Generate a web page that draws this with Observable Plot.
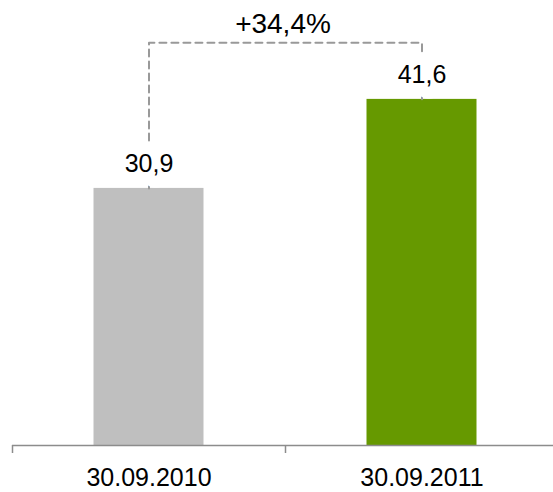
<!DOCTYPE html>
<html><head><meta charset="utf-8">
<script src="https://cdn.jsdelivr.net/npm/d3@7"></script>
<script src="https://cdn.jsdelivr.net/npm/@observablehq/plot@0.6"></script>
<style>body{margin:0;background:#fff}</style>
</head><body><div id="chart"></div>
<script>
const categories = ["30.09.2010", "30.09.2011"];
const values = [30.9, 41.6];
const valueLabels = ["30,9", "41,6"];
const changeLabel = "+34,4%";
const bracketLevel = 48.4;
const colors = ["#bfbfbf", "#669900"];

const data = categories.map((c, i) => ({cat: c, value: values[i], label: valueLabels[i], color: colors[i]}));
const xRange = [12, 558];
const step = (xRange[1] - xRange[0]) / categories.length;
const pxPerUnit = 8.32;
const bracketPath = [
  {cat: categories[0], y: values[0]},
  {cat: categories[0], y: bracketLevel},
  {cat: categories[1], y: bracketLevel},
  {cat: categories[1], y: values[1]}
];

const chart = Plot.plot({
  width: 553, height: 492,
  marginLeft: 12, marginRight: 0, marginTop: 0, marginBottom: 47,
  style: {fontFamily: "'Liberation Sans', Arial, sans-serif", fontSize: "25px", color: "#000", background: "#fff"},
  x: {type: "band", domain: categories, range: xRange, padding: 0, label: null, tickSize: 0, tickPadding: 23},
  y: {domain: [0, 50], range: [445, 445 - 50 * pxPerUnit], axis: null},
  marks: [
    Plot.barY(data, {x: "cat", y: "value", fill: "color", insetLeft: 81.5, insetRight: 81.5}),
    Plot.line(bracketPath, {x: "cat", y: "y", stroke: "#999999", strokeWidth: 2, strokeDasharray: "7,5"}),
    Plot.text(data, {x: "cat", y: "value", text: "label", lineAnchor: "bottom", dy: -16, fill: "#000", stroke: "#fff", strokeWidth: 24, fontSize: 25}),
    Plot.text([{t: changeLabel, y: bracketLevel}], {text: "t", y: "y", frameAnchor: "middle", lineAnchor: "bottom", dy: -10, fill: "#000", fontSize: 28}),
    Plot.ruleY([0], {stroke: "#8c8c8c", strokeWidth: 1.5}),
    Plot.ruleX(categories, {x: d => d, y1: 0, y2: -8 / pxPerUnit, dx: -step / 2, stroke: "#8c8c8c", strokeWidth: 1.5})
  ]
});
document.getElementById("chart").appendChild(chart);
</script>
</body></html>
